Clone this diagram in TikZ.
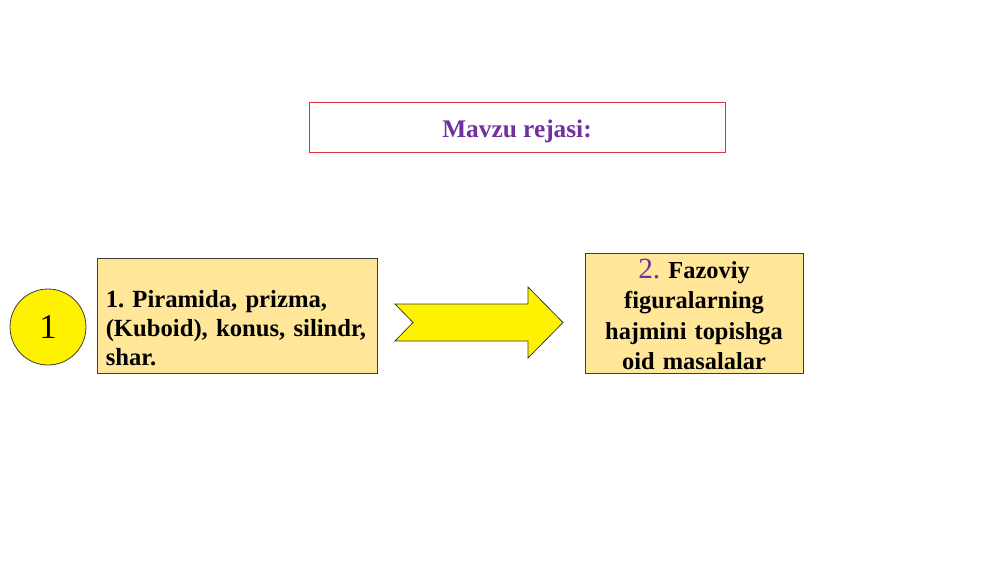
\documentclass[tikz,border=0pt]{standalone}
\usepackage{fontspec}
\setmainfont{Liberation Serif}
\frenchspacing
\definecolor{boxfill}{RGB}{255,230,153}
\definecolor{titlepurple}{RGB}{112,48,160}
\definecolor{titlered}{RGB}{222,50,60}
\definecolor{edgegray}{RGB}{60,60,60}
\tikzset{
  planbox/.style={draw=edgegray, line width=0.6pt, fill=boxfill, rectangle, inner sep=0pt},
  bodytext/.style={font=\bfseries\frenchspacing\fontsize{18.5}{22}\selectfont, inner sep=0pt},
  yellowshape/.style={fill=yellow, draw=edgegray, line width=0.6pt}
}
\begin{document}
\begin{tikzpicture}[x=0.75pt,y=-0.75pt]
\useasboundingbox (0,0) rectangle (1000,562);
% title
\node[draw=titlered, line width=0.7pt, minimum width=312pt, minimum height=37.5pt, inner sep=0pt] (title) at (517,127) {};
\node[anchor=base, text=titlepurple, font=\bfseries\fontsize{19}{23}\selectfont, inner sep=0pt] (titletext) at (517,137.5) {Mavzu rejasi:};
% circle
\node[circle, yellowshape, minimum size=57pt, inner sep=0pt, font=\fontsize{26}{30}\selectfont] (num) at (48,327) {1};
% box 1
\node[planbox, minimum width=210pt, minimum height=86.25pt] (boxa) at (237,315.5) {};
\node[bodytext, anchor=base west, text width=205pt, align=left] (texta) at (105.5,307) {1. Piramida, prizma,\\(Kuboid), konus, silindr,\\shar.};
% arrow
\draw[yellowshape] (395,304) -- (528,304) -- (528,287) -- (563,322.5) -- (528,358) -- (528,341) -- (395,341) -- (413,322.5) -- cycle;
% box 2
\node[planbox, minimum width=163.5pt, minimum height=90pt] (boxb) at (694,313) {};
\node[bodytext, anchor=base, text width=160pt, align=center, font=\bfseries\frenchspacing\fontsize{18.3}{22.7}\selectfont] (textb) at (694,278.7) {{\mdseries\fontsize{22}{22.7}\selectfont\color{titlepurple}2.} Fazoviy\\figuralarning\\hajmini topishga\\oid masalalar};
\end{tikzpicture}
\end{document}
